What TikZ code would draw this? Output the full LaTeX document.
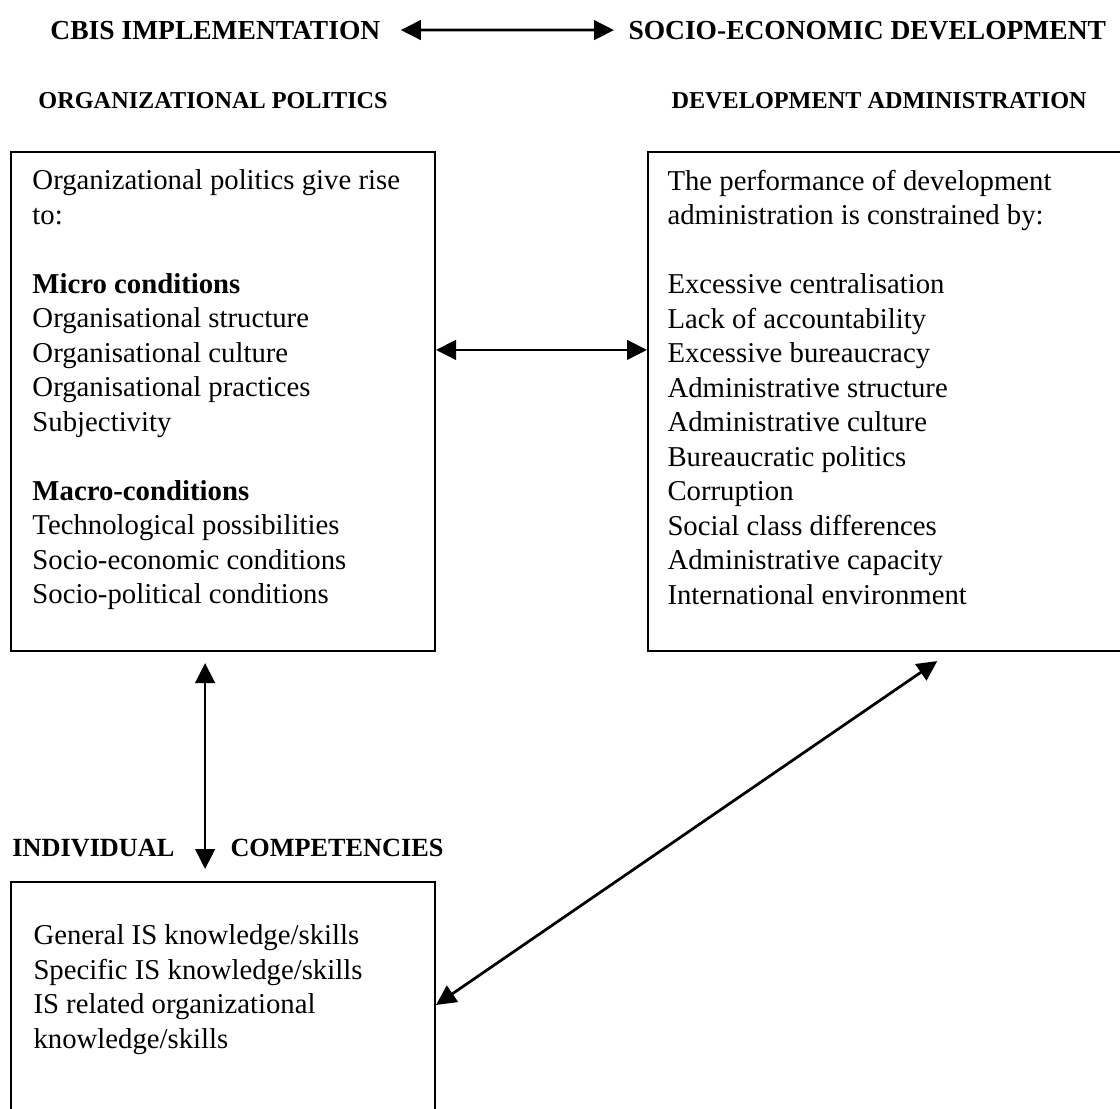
\documentclass[tikz,border=0pt]{standalone}
\usepackage{fontspec}
\setmainfont{Liberation Serif}
\usetikzlibrary{arrows.meta,calc,fit}

\tikzset{
  box/.style={draw, line width=0.8pt, inner sep=0pt},
  hdr/.style={font=\bfseries\fontsize{#1}{#1}\selectfont, inner sep=0pt, anchor=base west},
  body/.style={font=\fontsize{11.5}{13.8}\selectfont, align=left, inner sep=0pt, anchor=north west},
  biarrow/.style={{Triangle[length=8pt,width=7.8pt]}-{Triangle[length=8pt,width=7.8pt]}, line width=1.1pt},
}

\begin{document}
\begin{tikzpicture}[x=0.4pt,y=-0.4pt]

    \clip (0,0) rectangle (1120,1108);
    \fill[white] (0,0) rectangle (1120,1108);

    % headings
    \node[hdr=11] (cbis) at (50,39) {CBIS IMPLEMENTATION};
    \node[hdr=11] (socio) at (628,39) {SOCIO-ECONOMIC DEVELOPMENT};
    \node[hdr=9.7] (orgpolhead) at (38,108) {ORGANIZATIONAL POLITICS};
    \node[hdr=9.7] (devadmhead) at (671,108) {DEVELOPMENT ADMINISTRATION};
    \node[hdr=10.5] (indivhead) at (12,856) {INDIVIDUAL};
    \node[hdr=10.5] (comphead) at (230,856) {COMPETENCIES};

    % boxes
    \node[box, fit={(11,152) (435,651)}] (orgpol) {};
    \node[box, fit={(648,152) (1130,651)}] (devadm) {};
    \node[box, fit={(11,882) (435,1130)}] (comp) {};

    \node[body] (orgpoltext) at (32,169.5) {Organizational politics give rise\\
      to:\\[13.8pt]
      \textbf{Micro conditions}\\
      Organisational structure\\
      Organisational culture\\
      Organisational practices\\
      Subjectivity\\[13.8pt]
      \textbf{Macro-conditions}\\
      Technological possibilities\\
      Socio-economic conditions\\
      Socio-political conditions};

    \node[body] (devadmtext) at (667,169.5) {The performance of development\\
      administration is constrained by:\\[13.8pt]
      Excessive centralisation\\
      Lack of accountability\\
      Excessive bureaucracy\\
      Administrative structure\\
      Administrative culture\\
      Bureaucratic politics\\
      Corruption\\
      Social class differences\\
      Administrative capacity\\
      International environment};

    \node[body] (comptext) at (33,924.5) {General IS knowledge/skills\\
      Specific IS knowledge/skills\\
      IS related organizational\\
      knowledge/skills};

    % connectors
    \coordinate (midL) at ($(orgpol.north east)!0.397!(orgpol.south east)$);
    \coordinate (vtop) at ($(orgpol.south west)!0.458!(orgpol.south east)$);
    \coordinate (dlow) at ($(comp.north east)!0.496!(comp.south east)$);
    \coordinate (dtop) at ($(devadm.south west)!0.627!(devadm.south east)$);

    \draw[biarrow, shorten <=8pt, shorten >=5.6pt] (cbis.east) -- (socio.west);
    \draw[biarrow] (midL) -- (midL -| devadm.west);
    \draw[biarrow, shorten <=4.4pt, shorten >=4.8pt] (vtop) -- (vtop |- comp.north);
    \draw[biarrow, shorten >=6.4pt] (dlow) -- (dtop);
  \end{tikzpicture}
\end{document}
